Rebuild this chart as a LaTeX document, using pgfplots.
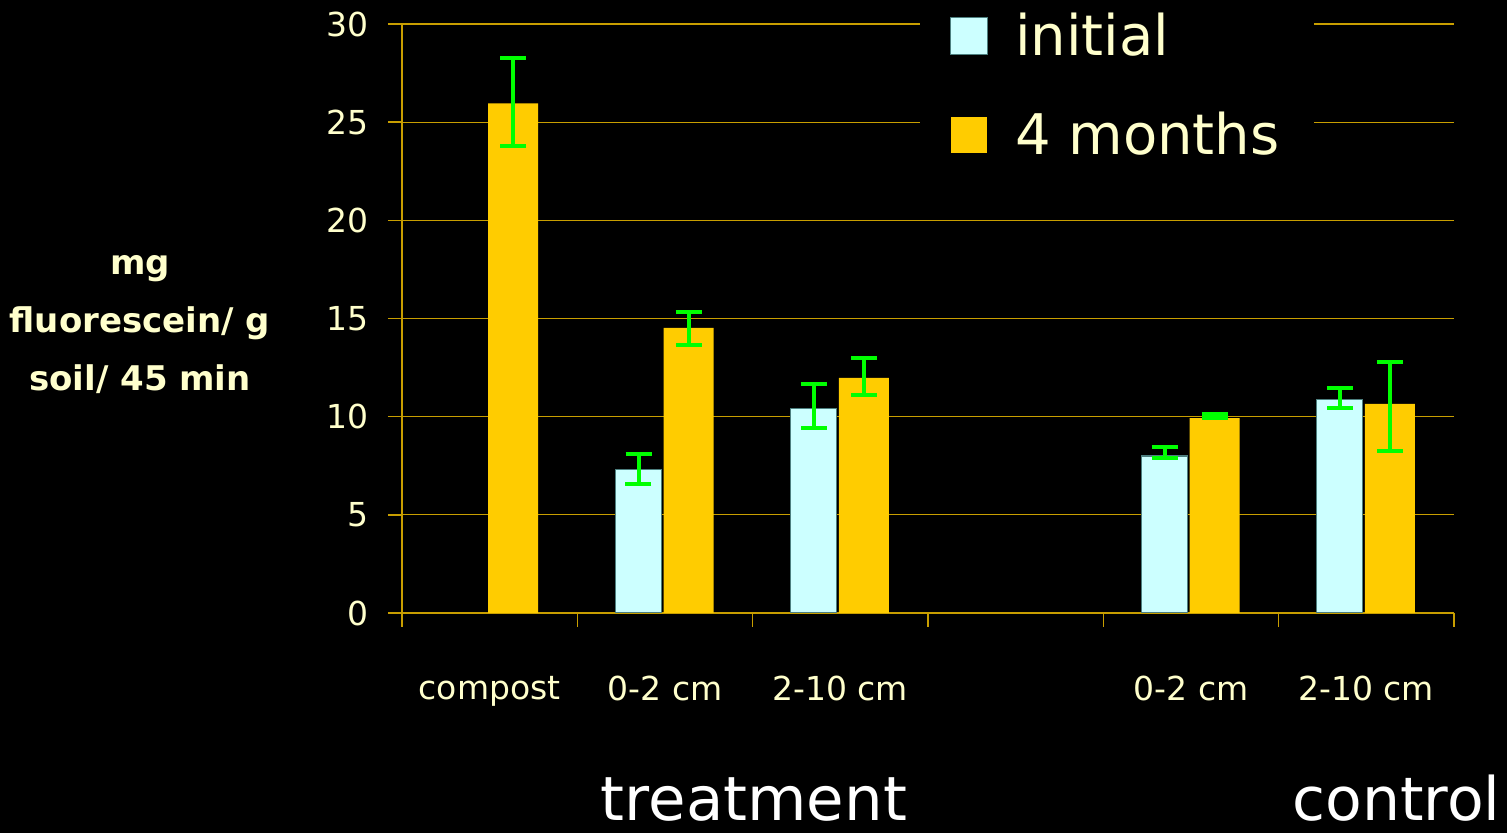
\documentclass[border=0pt]{standalone}
\usepackage{fontspec}
\setmainfont{DejaVu Sans}
\usepackage{pgfplots}
\pgfplotsset{compat=1.18}
\definecolor{cream}{HTML}{FFFFCC}
\definecolor{iceblue}{HTML}{CCFFFF}
\definecolor{gold}{HTML}{FFCC00}
\definecolor{errgreen}{HTML}{00FF00}
\definecolor{gridgold}{RGB}{200,158,0}
\definecolor{iceedge}{HTML}{4D7F7F}
\pgfplotsset{
  sq/.style={legend image code/.code={\draw[##1] (0pt,-9.25pt) rectangle (18.5pt,9.25pt); \path (30pt,0pt);}},
  greenerr/.style={error bars/.cd, y dir=both, y explicit,
    error bar style={errgreen, line width=2pt},
    error mark options={rotate=90, errgreen, mark size=6.5pt, line width=2pt}},
}
\begin{document}
\begin{tikzpicture}
\fill[black] (-201pt,-110pt) rectangle (552.5pt,306.5pt);
\useasboundingbox (-201pt,-110pt) rectangle (552.5pt,306.5pt);
\begin{axis}[
  at={(0,0)}, anchor=south west,
  scale only axis, width=526pt, height=294.5pt,
  xmin=-0.5, xmax=5.5, ymin=0, ymax=30,
  axis lines*=left,
  axis line style={-, gridgold, line width=0.8pt},
  tick align=outside,
  major tick length=7pt, minor tick length=7pt,
  tick style={gridgold, line width=0.8pt},
  ytick={0,5,...,30},
  xtick={0,1,2,4,5},
  xticklabels={compost,0-2 cm,2-10 cm,0-2 cm,2-10 cm},
  major x tick style={draw=none},
  minor xtick={-0.5,0.5,...,5.5},
  ymajorgrids,
  grid style={gridgold, line width=0.6pt},
  /pgf/number format/assume math mode=true,
  ticklabel style={font=\fontsize{16.5}{20}\selectfont, text=cream},
  xticklabel style={yshift=-21pt},
  yticklabel style={xshift=-6pt},
  ylabel={mg\\fluorescein/ g\\soil/ 45 min},
  ylabel style={rotate=-90, align=center, font=\bfseries\fontsize{17}{29}\selectfont,
    text=cream, at={(axis description cs:-0.249,0.4895)}, anchor=center},
  legend cell align=left,
  legend style={at={(axis description cs:0.492,1.04)}, anchor=north west,
    fill=black, draw=none, font=\fontsize{28}{30}\selectfont, text=cream,
    row sep=23pt, inner xsep=15pt, inner ysep=4pt},
]
\addlegendimage{sq, fill=iceblue, draw=iceedge, line width=0.6pt}
\addlegendentry{initial}
\addlegendimage{sq, fill=gold, draw=none}
\addlegendentry{4 months}
\addplot[ybar, bar width=23pt, bar shift=0pt, xshift=-13.25pt, fill=iceblue, draw=iceedge,
  line width=0.6pt, forget plot, greenerr] coordinates {
  (1,7.32) += (0,0.78) -= (0,0.73)
  (2,10.41) += (0,1.24) -= (0,0.97)
  (4,8.00) += (0,0.44) -= (0,0.08)
  (5,10.87) += (0,0.59) -= (0,0.43)
};
\addplot[ybar, bar width=25pt, bar shift=0pt, xshift=11.75pt, fill=gold, draw=none,
  forget plot, greenerr] coordinates {
  (0,25.96) += (0,2.32) -= (0,2.19)
  (1,14.52) += (0,0.83) -= (0,0.87)
  (2,11.97) += (0,1.00) -= (0,0.85)
  (4,9.93) += (0,0.20) -= (0,0.02)
  (5,10.65) += (0,2.15) -= (0,2.38)
};
\end{axis}
\node[anchor=base, inner sep=0pt, text=white, font=\fontsize{30.5}{32}\selectfont] at (176pt,-103.6pt) {treatment};
\node[anchor=base west, inner sep=0pt, text=white, font=\fontsize{30}{32}\selectfont] at (445pt,-103.6pt) {control};
\end{tikzpicture}
\end{document}
